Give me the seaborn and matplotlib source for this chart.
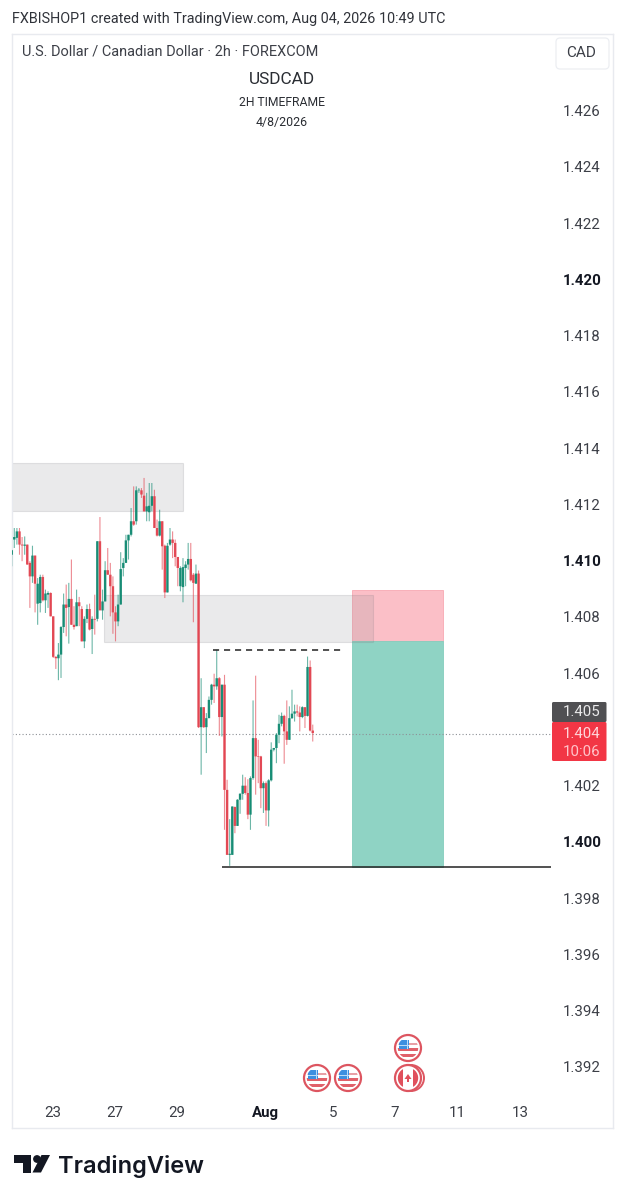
import numpy as np
import pandas as pd
import seaborn as sns
import matplotlib
matplotlib.use("Agg")
import matplotlib.pyplot as plt
from matplotlib.patches import Rectangle, Circle, Polygon, FancyBboxPatch

# Prices in 1/100000 (pipettes)
opens = [141021,141075,141081,141104,141057,141053,141057,140992,140944,141018,140847,140849,140942,140859,140879,140885,140802,140658,140653,140666,
         140764,140844,140835,140864,140772,140767,140852,140828,140713,140793,140828,140757,140793,140793,141069,140823,140855,140966,140950,140909,
         140816,140784,140844,140974,140992,141072,141092,141140,141140,141250,141250,141231,141175,141172,141195,141229,141116,141089,141140,141053,
         140887,141057,141075,141063,141013,140909,140906,140974,140986,141006,140950,140918,140954,140408,140479,140408,140440,140505,140559,140553,
         140582,140444,140559,140185,139954,139954,140124,140057,140150,140171,140200,140174,140097,140227,140369,140304,140304,140191,140209,140112,
         140219,140328,140334,140381,140420,140448,140393,140363,140440,140456,140464,140460,140444,140479,140448,140622,140396]
highs = [141039,141116,141116,141116,141084,141086,141057,140998,141053,141018,140938,140950,140950,140897,140891,140887,140802,140660,140707,140767,
         140883,140915,140921,141004,140838,140897,140871,140838,140802,140844,140847,140802,140879,141069,141155,140897,140998,141045,140992,140944,
         140838,140879,141030,141009,141092,141092,141187,141264,141264,141258,141258,141294,141241,141276,141276,141252,141146,141181,141140,141057,
         141063,141116,141104,141075,141013,140980,141009,140998,141063,141063,140956,140986,140965,140582,140479,140458,140517,140562,140598,140683,
         140586,140559,140594,140221,140081,140126,140126,140152,140174,140239,140230,140223,140233,140503,140591,140363,140306,140215,140215,140223,
         140354,140334,140387,140452,140460,140452,140503,140482,140541,140488,140488,140482,140482,140479,140659,140645,140417]
lows = [140980,141045,141057,141021,140998,141021,140986,140832,140921,140816,140772,140816,140855,140814,140832,140802,140654,140615,140575,140583,
        140743,140731,140705,140772,140755,140767,140767,140713,140689,140778,140752,140668,140737,140784,140826,140790,140855,140950,140802,140740,
        140713,140767,140844,140944,140992,141004,141086,141124,141128,141241,141223,141175,141140,141140,141175,141116,141086,141086,140968,140867,
        140887,141053,141009,140980,140909,140891,140852,140909,140968,140926,140781,140918,140405,140239,140405,140316,140440,140488,140494,140541,
        140377,140375,140043,139954,139915,139954,140031,140057,140100,140150,140168,140081,140043,140221,140168,140209,140120,140103,140057,140055,
        140215,140322,140280,140351,140411,140278,140345,140363,140437,140428,140446,140393,140440,140405,140446,140393,140357]
closes = [141037,141084,141104,141057,141054,141057,140986,140944,141018,140918,140918,140942,140859,140883,140885,140802,140658,140653,140666,140764,
          140844,140832,140864,140772,140764,140852,140838,140713,140793,140828,140755,140793,140790,141069,140823,140855,140966,140950,140909,140816,
          140784,140844,140970,140992,141072,141092,141140,141128,141250,141252,141235,141175,141193,141195,141229,141116,141089,141140,141051,140887,
          141053,141075,141063,141013,140974,140974,140977,140986,141006,140930,140921,140954,140408,140479,140408,140440,140505,140559,140553,140582,
          140444,140559,140185,139954,139958,140126,140057,140150,140171,140200,140174,140097,140227,140369,140304,140302,140191,140209,140112,140219,
          140328,140334,140381,140420,140448,140393,140363,140440,140456,140464,140460,140444,140479,140448,140622,140396,140387]

price_ticks = [1.392,1.394,1.396,1.398,1.400,1.402,1.406,1.408,1.410,1.412,1.414,1.416,1.418,1.420,1.422,1.424,1.426]
bold_prices = [1.400,1.410,1.420]
date_bars = [15.7,39.8,63.7,97.6,123.8,147.7,171.6,195.9]
date_labels = ["23","27","29","Aug","5","7","11","13"]

# price-zone rectangles: (first bar, last bar, low, high)
zone_upper = (-2, 66.0, 1.41177, 1.41348)
zone_lower = (35.6, 139.2, 1.40711, 1.40879)
stop_box = (131.1, 166.2, 1.40715, 1.40896)
target_box = (131.1, 166.2, 1.39911, 1.40715)
last_price = 1.40384
swing_high = (77.6, 127.7, 1.40683)
swing_low = (81.0, 207.8, 1.39911)

W, H = 625, 1200
sns.set_theme(style="white", rc={"axes.edgecolor": "#e8eaef", "axes.linewidth": 1.0})
plt.rcParams["font.family"] = ["Roboto", "DejaVu Sans"]

fig = plt.figure(figsize=(W/100, H/100), dpi=100, facecolor="white")
def rect(l, t, r, b):
    return [l/W, 1-b/H, (r-l)/W, (b-t)/H]
ax = fig.add_axes(rect(11.5, 33.5, 613, 1128))
ax.set_xlim(-0.08, 231.7)
ax.set_ylim(1.38983, 1.42874)

# frames and zones
def box(z, **kw):
    ax.add_patch(Rectangle((z[0], z[2]), z[1]-z[0], z[3]-z[2], **kw))
box(stop_box, fc="#fbbfc7", ec="#f8a9b3", lw=0.6, zorder=1)
box(target_box, fc="#8fd3c4", ec="#84cdbd", lw=0.6, zorder=1)
box(zone_upper, fc="#8f8f94", alpha=0.18, ec="#77777c", lw=0.8, zorder=1.2)
box(zone_lower, fc="#8f8f94", alpha=0.18, ec="#77777c", lw=0.8, zorder=1.2)

# candles
bars = np.arange(len(opens))
o, h, l, c = (np.array(a)/1e5 for a in (opens, highs, lows, closes))
direction = np.where(c >= o, "up", "down")
pal = {"up": "#128a72", "down": "#e2434f"}
wicks = pd.DataFrame({"bar": np.r_[bars, bars], "price": np.r_[h, l], "dir": np.r_[direction, direction]})
tops, bots = np.maximum(o, c), np.minimum(o, c)
bodies = pd.DataFrame({"bar": np.r_[bars, bars], "price": np.r_[tops, bots+(tops==bots)*-2e-5], "dir": np.r_[direction, direction]})
sns.lineplot(data=wicks, x="bar", y="price", hue="dir", palette=pal, units="bar", estimator=None,
             lw=0.8, alpha=0.62, legend=False, ax=ax, solid_capstyle="butt", zorder=3, sort=False, snap=False)
sns.lineplot(data=bodies, x="bar", y="price", hue="dir", palette=pal, units="bar", estimator=None,
             lw=1.75, alpha=0.95, legend=False, ax=ax, solid_capstyle="butt", zorder=4, sort=False, snap=False)

# annotation lines
ax.hlines(last_price, -0.08, swing_low[1], color="#8d9096", lw=0.8, ls=(0, (1, 2)), zorder=2)
ax.hlines(swing_high[2], swing_high[0], swing_high[1], color="#222222", lw=1.1, ls=(0, (4, 3.2)), zorder=5)
ax.hlines(swing_low[2], swing_low[0], swing_low[1], color="#222222", lw=1.1, zorder=5)

# axes
ax.set_xlabel(""); ax.set_ylabel("")
ax.yaxis.tick_right()
ax.set_yticks(price_ticks)
ax.set_yticklabels([f"{p:.3f}" for p in price_ticks])
ax.set_xticks(date_bars)
ax.set_xticklabels(date_labels)
ax.tick_params(axis="y", length=0, pad=-36.4, labelsize=10.8, labelcolor="#3c3f47")
ax.tick_params(axis="x", length=0, pad=-15.5, labelsize=10.8, labelcolor="#3c3f47")
for t, p in zip(ax.get_yticklabels(), price_ticks):
    if any(abs(p-b) < 1e-6 for b in bold_prices):
        t.set_fontweight("bold"); t.set_color("#131722")
for t in ax.get_xticklabels():
    if t.get_text() == "Aug":
        t.set_fontweight("bold"); t.set_color("#131722")

# overlay in screen pixels for header, labels, icons and logo
ov = fig.add_axes([0, 0, 1, 1], facecolor="none")
ov.set_xlim(0, W); ov.set_ylim(H, 0); ov.axis("off")
def txt(x, y, s, size, color="#3c3f47", ha="left", **kw):
    ov.text(x, y, s, fontsize=size, color=color, ha=ha, va="center", **kw)
txt(12, 18.5, "FXBISHOP1 created with TradingView.com, Aug 04, 2026 10:49 UTC", 10.36, "#30333a")
txt(22, 52, "U.S. Dollar / Canadian Dollar · 2h · FOREXCOM", 10.47, "#3c3f47")
txt(282, 79, "USDCAD", 12.4, "#2a2d33", ha="center")
txt(282, 103, "2H TIMEFRAME", 8.7, "#2a2d33", ha="center")
txt(281.5, 122.5, "4/8/2026", 8.9, "#2a2d33", ha="center")
ov.add_patch(FancyBboxPatch((559, 41), 47, 25, boxstyle="round,pad=3,rounding_size=4", fc="white", ec="#eceef2", lw=0.9))
txt(581.5, 53, "CAD", 11, "#3c3f47", ha="center")

# price labels
ov.add_patch(FancyBboxPatch((553, 703), 52.5, 18, boxstyle="round,pad=1,rounding_size=1.5", fc="#505053", ec="none"))
ov.add_patch(FancyBboxPatch((553, 723), 52.5, 37, boxstyle="round,pad=1,rounding_size=1.5", fc="#f23645", ec="none"))
txt(600.5, 712.5, "1.405", 10.8, "#e9e9ea", ha="right")
txt(600.5, 733.5, "1.404", 10.8, "#ffd5d9", ha="right")
txt(600.5, 751.5, "10:06", 10.8, "#ffc3c9", ha="right")

# calendar-event icons
def flag(cx, cy, kind):
    r = 13
    ov.add_patch(Circle((cx, cy), r, fc="white", ec="#dd5560", lw=1.6, zorder=6))
    clip = Circle((cx, cy), r-2.8, transform=ov.transData)
    parts = []
    if kind == "us":
        parts.append(Rectangle((cx-r, cy-5.5), 2*r, 2.4, fc="#e8a0a6"))
        parts.append(Rectangle((cx-r, cy+0.2), 2*r, 2.6, fc="#e0606a"))
        parts.append(Rectangle((cx-r, cy+5.5), 2*r, 3.2, fc="#e0606a"))
        parts.append(Rectangle((cx-9, cy-8), 10, 8.5, fc="#3d8fe0"))
        for gx in (-6.5, -3.5, -0.8):
            parts.append(Rectangle((cx+gx, cy-8), 0.7, 8.5, fc="#bcdcf7"))
        for gy in (-5.5, -2.7):
            parts.append(Rectangle((cx-9, cy+gy), 10, 0.7, fc="#bcdcf7"))
    else:
        parts.append(Rectangle((cx-r, cy-r), r-5, 2*r, fc="#e0505c"))
        parts.append(Rectangle((cx+5, cy-r), r, 2*r, fc="#e0505c"))
        parts.append(Polygon([(cx, cy-4), (cx+3.5, cy+1), (cx+1, cy+1), (cx+1, cy+4), (cx-1, cy+4), (cx-1, cy+1), (cx-3.5, cy+1)], fc="#e0505c"))
    for p in parts:
        p.set_linewidth(0); p.set_zorder(7)
        ov.add_patch(p); p.set_clip_path(clip)
flag(408, 1048, "us")
flag(317, 1078, "us")
flag(348, 1078, "us")
ov.add_patch(Circle((411, 1078), 13, fc="white", ec="#dd5560", lw=1.4, zorder=5))
flag(408, 1078, "ca")

# logo
k = "#131722"
ov.add_patch(Polygon([(14, 1155), (31, 1155), (31, 1172.5), (23, 1172.5), (23, 1163), (14, 1163)], fc=k, ec="none"))
ov.add_patch(Circle((37, 1159), 3.9, fc=k, ec="none"))
ov.add_patch(Polygon([(41.5, 1155), (50, 1155), (41, 1172.5), (32.5, 1172.5)], fc=k, ec="none"))
ov.text(58, 1166, "TradingView", fontsize=17.0, color=k, family=["Inter", "DejaVu Sans"], fontweight="semibold", ha="left", va="center")

fig.savefig("out.png", dpi=100, facecolor="white")
